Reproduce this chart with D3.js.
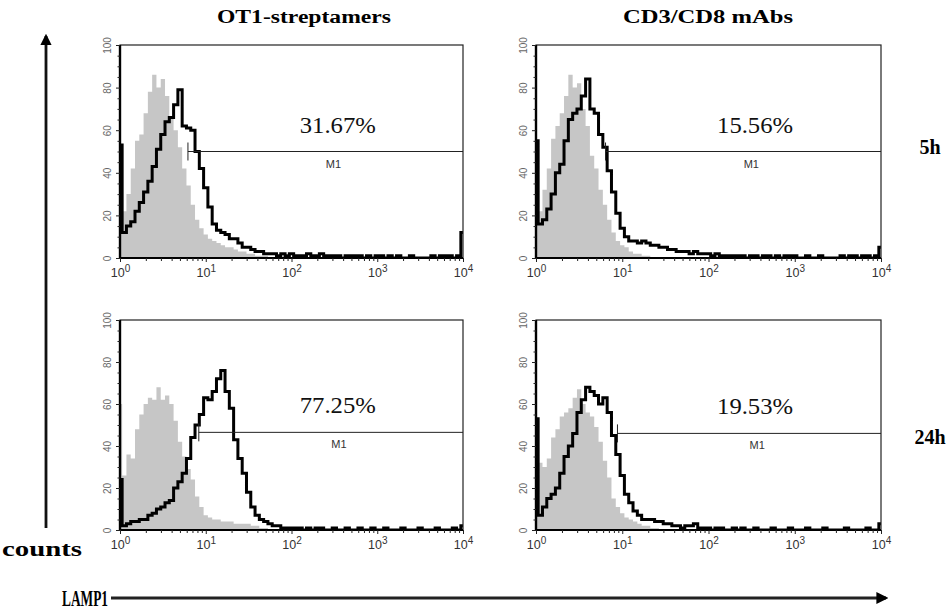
<!DOCTYPE html>
<html>
<head>
<meta charset="utf-8">
<script src="https://cdn.jsdelivr.net/npm/d3@7"></script>
<style>
  body { margin: 0; background: #fff; }
  svg { display: block; }
</style>
</head>
<body>
<div id="chart"></div>
<script>
// log10 bin centres (channel position, decades)
const logBins = [0.00, 0.05, 0.10, 0.15, 0.20, 0.25, 0.30, 0.35, 0.40, 0.45,
  0.50, 0.55, 0.60, 0.65, 0.70, 0.75, 0.80, 0.85, 0.90, 0.95,
  1.00, 1.05, 1.10, 1.15, 1.20, 1.25, 1.30, 1.35, 1.40, 1.45,
  1.50, 1.55, 1.60, 1.65, 1.70, 1.75, 1.80, 1.85, 1.90, 1.95,
  2.00, 2.05, 2.10, 2.15, 2.20, 2.25, 2.30, 2.35, 2.40, 2.45,
  2.50, 2.55, 2.60, 2.65, 2.70, 2.75, 2.80, 2.85, 2.90, 2.95,
  3.00, 3.05, 3.10, 3.15, 3.20, 3.25, 3.30, 3.35, 3.40, 3.45,
  3.50, 3.55, 3.60, 3.65, 3.70, 3.75, 3.80, 3.85, 3.90, 3.95, 4.00];

// OT1-streptamers, 5h
const ot1_5h_control = [18, 22, 30, 42, 55, 58, 68, 78, 86, 80,
  84, 76, 66, 60, 52, 42, 34, 25, 18, 14,
  11, 9, 8, 7, 6, 5, 5, 4, 3, 3,
  2, 2, 1, 1, 1, 0, 0, 0, 0, 0,
  0, 0, 0, 0, 0, 0, 0, 0, 0, 0,
  0, 0, 0, 0, 0, 0, 0, 0, 0, 0,
  0, 0, 0, 0, 0, 0, 0, 0, 0, 0,
  0, 0, 0, 0, 0, 0, 0, 0, 0, 0, 0];
const ot1_5h_lamp = [53, 12, 15, 17, 22, 26, 31, 36, 43, 51,
  58, 64, 66, 72, 79, 62, 61, 60, 50, 42,
  33, 24, 16, 13, 12, 11, 9, 9, 7, 5,
  5, 4, 3, 3, 2, 2, 2, 1, 2, 1,
  2, 1, 1, 1, 2, 1, 1, 2, 1, 1,
  1, 1, 0, 1, 1, 1, 1, 0, 1, 0,
  1, 1, 0, 1, 0, 1, 0, 0, 1, 0,
  0, 0, 0, 1, 0, 1, 1, 1, 0, 1, 12];

// CD3/CD8 mAbs, 5h
const mab_5h_control = [16, 22, 32, 42, 56, 62, 68, 76, 86, 80,
  82, 70, 62, 48, 42, 32, 25, 18, 12, 8,
  6, 5, 3, 2, 2, 1, 1, 0, 0, 0,
  0, 0, 0, 0, 0, 0, 0, 0, 0, 0,
  0, 0, 0, 0, 0, 0, 0, 0, 0, 0,
  0, 0, 0, 0, 0, 0, 0, 0, 0, 0,
  0, 0, 0, 0, 0, 0, 0, 0, 0, 0,
  0, 0, 0, 0, 0, 0, 0, 0, 0, 0, 0];
const mab_5h_lamp = [55, 16, 18, 23, 30, 40, 44, 55, 65, 68,
  70, 76, 84, 70, 68, 58, 52, 41, 31, 21,
  14, 10, 8, 8, 7, 8, 7, 6, 6, 5,
  5, 4, 4, 3, 3, 3, 2, 3, 2, 2,
  2, 1, 2, 1, 1, 1, 1, 1, 1, 0,
  1, 1, 0, 1, 1, 0, 1, 0, 1, 1,
  1, 0, 0, 1, 0, 0, 1, 0, 0, 0,
  0, 1, 0, 1, 1, 0, 1, 1, 0, 1, 5];

// OT1-streptamers, 24h
const ot1_24h_control = [60, 26, 36, 34, 48, 55, 60, 63, 62, 68,
  62, 64, 60, 52, 42, 35, 29, 24, 16, 11,
  7, 6, 5, 5, 4, 4, 4, 3, 3, 3,
  3, 2, 2, 1, 1, 0, 0, 0, 0, 0,
  0, 0, 0, 0, 0, 0, 0, 0, 0, 0,
  0, 0, 0, 0, 0, 0, 0, 0, 0, 0,
  0, 0, 0, 0, 0, 0, 0, 0, 0, 0,
  0, 0, 0, 0, 0, 0, 0, 0, 0, 0, 0];
const ot1_24h_lamp = [24, 2, 3, 4, 4, 5, 5, 7, 8, 10,
  11, 13, 14, 20, 23, 27, 34, 44, 50, 55,
  63, 62, 66, 72, 76, 66, 58, 43, 34, 27,
  18, 11, 7, 5, 4, 3, 2, 2, 1, 1,
  1, 1, 1, 0, 1, 0, 1, 1, 0, 0,
  1, 0, 0, 1, 0, 0, 1, 0, 0, 1,
  0, 0, 1, 0, 0, 0, 1, 0, 0, 0,
  1, 0, 0, 0, 1, 0, 0, 0, 1, 0, 2];

// CD3/CD8 mAbs, 24h
const mab_24h_control = [38, 32, 30, 34, 44, 48, 54, 56, 58, 63,
  67, 60, 56, 54, 49, 42, 33, 25, 15, 11,
  8, 6, 5, 4, 3, 2, 2, 1, 1, 0,
  0, 0, 0, 0, 0, 0, 0, 0, 0, 0,
  0, 0, 0, 0, 0, 0, 0, 0, 0, 0,
  0, 0, 0, 0, 0, 0, 0, 0, 0, 0,
  0, 0, 0, 0, 0, 0, 0, 0, 0, 0,
  0, 0, 0, 0, 0, 0, 0, 0, 0, 0, 0];
const mab_24h_lamp = [53, 7, 11, 15, 17, 20, 27, 35, 40, 46,
  56, 62, 68, 66, 64, 60, 63, 56, 45, 36,
  26, 17, 13, 9, 7, 5, 5, 5, 4, 4,
  3, 3, 2, 2, 1, 2, 2, 3, 1, 1,
  1, 0, 1, 1, 0, 0, 1, 0, 1, 0,
  0, 1, 0, 0, 0, 1, 0, 0, 0, 1,
  0, 0, 0, 1, 0, 0, 0, 1, 0, 0,
  0, 0, 1, 0, 0, 0, 0, 1, 0, 0, 3];

const columnTitles = ['OT1-streptamers', 'CD3/CD8 mAbs'];
const rowTitles = ['5h', '24h'];
const percents = [['31.67%', '15.56%'], ['77.25%', '19.53%']];
const markerLevel = [[50, 50], [46.5, 46]];
const markerStart = [[6.2, 6.4], [8.3, 8.8]];
const yTicks = [0, 20, 40, 60, 80, 100];
const xDecades = [1, 10, 100, 1000, 10000];

const panelData = [
  [{ control: ot1_5h_control, lamp: ot1_5h_lamp }, { control: mab_5h_control, lamp: mab_5h_lamp }],
  [{ control: ot1_24h_control, lamp: ot1_24h_lamp }, { control: mab_24h_control, lamp: mab_24h_lamp }]
];

const width = 952, height = 612;
const colX = [120, 536], colW = [343, 345];
const rowY = [45, 320], rowH = [213, 210];

const svg = d3.select('#chart').append('svg')
  .attr('width', width)
  .attr('height', height);

const serif = '"Liberation Serif", "Times New Roman", serif';
const sans = '"Liberation Sans", Arial, sans-serif';

// minor ticks for the log axis: 2..9 in each decade
const minorTicks = [];
xDecades.slice(0, -1).forEach(d => {
  for (let k = 2; k <= 9; k++) minorTicks.push(d * k);
});
const yMinor = d3.range(0, 101, 5).filter(v => v % 20 !== 0);

rowY.forEach((py, r) => {
  colX.forEach((px, c) => {
    const w = colW[c], h = rowH[r];
    const g = svg.append('g').attr('transform', `translate(${px},${py})`);

    const x = d3.scaleLog().domain([1, 10000]).range([0, w]);
    const y = d3.scaleLinear().domain([0, 100]).range([h, 0]);

    const clipId = `clip-${r}-${c}`;
    g.append('clipPath').attr('id', clipId)
      .append('rect').attr('x', 0).attr('y', -2).attr('width', w).attr('height', h + 2);

    const pts = d => logBins.map((b, i) => ({ v: Math.pow(10, b), n: d[i] }));
    const { control, lamp } = panelData[r][c];

    g.append('path')
      .datum(pts(control))
      .attr('clip-path', `url(#${clipId})`)
      .attr('fill', '#c6c6c6')
      .attr('d', d3.area().curve(d3.curveStep)
        .x(d => x(d.v)).y0(h).y1(d => y(d.n)));

    g.append('path')
      .datum(pts(lamp))
      .attr('clip-path', `url(#${clipId})`)
      .attr('fill', 'none')
      .attr('stroke', '#000')
      .attr('stroke-width', 3)
      .attr('stroke-linejoin', 'miter')
      .attr('d', d3.line().curve(d3.curveStep)
        .x(d => x(d.v)).y(d => y(d.n)));

    // frame
    g.append('rect')
      .attr('width', w).attr('height', h)
      .attr('fill', 'none').attr('stroke', '#222').attr('stroke-width', 1.2);
    g.append('line').attr('x1', 0).attr('x2', 0).attr('y1', 0).attr('y2', h)
      .attr('stroke', '#000').attr('stroke-width', 2.4);
    g.append('line').attr('x1', 0).attr('x2', w).attr('y1', h).attr('y2', h)
      .attr('stroke', '#000').attr('stroke-width', 2);

    // x axis
    const xMaj = g.append('g').attr('transform', `translate(0,${h})`)
      .call(d3.axisBottom(x).tickValues(xDecades).tickSize(4).tickPadding(3).tickFormat(''));
    g.append('g').attr('transform', `translate(0,${h})`)
      .call(d3.axisBottom(x).tickValues(minorTicks).tickSize(3).tickFormat(''));
    xMaj.selectAll('.tick text').each(function (d) {
      const t = d3.select(this);
      t.text('10');
      t.append('tspan').attr('dy', '-0.45em').style('font-size', '10px').text(Math.round(Math.log10(d)));
    });
    g.selectAll('.domain').remove();

    // y axis
    const yAx = g.append('g')
      .call(d3.axisLeft(y).tickValues(yTicks).tickSize(4).tickPadding(4));
    g.append('g')
      .call(d3.axisLeft(y).tickValues(yMinor).tickSize(2.5).tickFormat(''));
    g.selectAll('.domain').remove();
    yAx.selectAll('.tick text')
      .attr('transform', 'rotate(-90)')
      .attr('x', 0).attr('y', -9)
      .attr('dy', '0')
      .attr('text-anchor', 'middle')
      .attr('fill', '#666')
      .style('font-size', '10px');
    g.selectAll('.tick line').attr('stroke', '#222');
    xMaj.selectAll('.tick text')
      .style('font-size', '12.5px').attr('fill', '#333')
      .attr('dy', '0.95em');

    // M1 marker
    const mx0 = x(markerStart[r][c]), my = y(markerLevel[r][c]);
    g.append('line').attr('x1', mx0).attr('x2', w).attr('y1', my).attr('y2', my)
      .attr('stroke', '#222').attr('stroke-width', 1);
    g.append('line').attr('x1', mx0).attr('x2', mx0).attr('y1', my - 9).attr('y2', my + 9)
      .attr('stroke', '#222').attr('stroke-width', 1);
    g.append('text')
      .attr('x', (mx0 + w) / 2 + 8).attr('y', my + 16)
      .attr('text-anchor', 'middle')
      .attr('font-family', sans).attr('font-size', '11px').attr('fill', '#333')
      .text('M1');

    g.append('text')
      .attr('x', w * 0.635).attr('y', my - 19)
      .attr('text-anchor', 'middle')
      .attr('font-family', serif).attr('font-size', '24px').attr('fill', '#111')
      .attr('textLength', 76).attr('lengthAdjust', 'spacingAndGlyphs')
      .text(percents[r][c]);
  });
});

svg.selectAll('.tick text').attr('font-family', sans);

// column titles
const titleCx = [304, 708], titleLen = [174, 170];
columnTitles.forEach((t, i) => {
  svg.append('text')
    .attr('x', titleCx[i]).attr('y', 23)
    .attr('text-anchor', 'middle')
    .attr('font-family', serif).attr('font-weight', 'bold').attr('font-size', '18px')
    .attr('textLength', titleLen[i]).attr('lengthAdjust', 'spacingAndGlyphs')
    .text(t);
});

// row titles
const rowTy = [154, 444];
rowTitles.forEach((t, i) => {
  svg.append('text')
    .attr('x', 930).attr('y', rowTy[i])
    .attr('text-anchor', 'middle')
    .attr('font-family', serif).attr('font-weight', 'bold').attr('font-size', '20px')
    .text(t);
});

// arrows
const defs = svg.append('defs');
defs.append('marker').attr('id', 'head')
  .attr('viewBox', '0 0 10 10').attr('refX', 8).attr('refY', 5)
  .attr('markerWidth', 4).attr('markerHeight', 4).attr('orient', 'auto')
  .append('path').attr('d', 'M0,0L10,5L0,10Z').attr('fill', '#000');

svg.append('line').attr('x1', 46).attr('x2', 46).attr('y1', 528).attr('y2', 36)
  .attr('stroke', '#111').attr('stroke-width', 2.8).attr('marker-end', 'url(#head)');
svg.append('line').attr('x1', 111).attr('x2', 886).attr('y1', 598).attr('y2', 598)
  .attr('stroke', '#222').attr('stroke-width', 3).attr('marker-end', 'url(#head)');

svg.append('text').attr('x', 2).attr('y', 556)
  .attr('font-family', serif).attr('font-weight', 'bold').attr('font-size', '20px')
  .attr('textLength', 80).attr('lengthAdjust', 'spacingAndGlyphs')
  .text('counts');
svg.append('text').attr('x', 62).attr('y', 606)
  .attr('font-family', serif).attr('font-weight', 'bold').attr('font-size', '24px')
  .attr('textLength', 46).attr('lengthAdjust', 'spacingAndGlyphs')
  .text('LAMP1');
</script>
</body>
</html>
